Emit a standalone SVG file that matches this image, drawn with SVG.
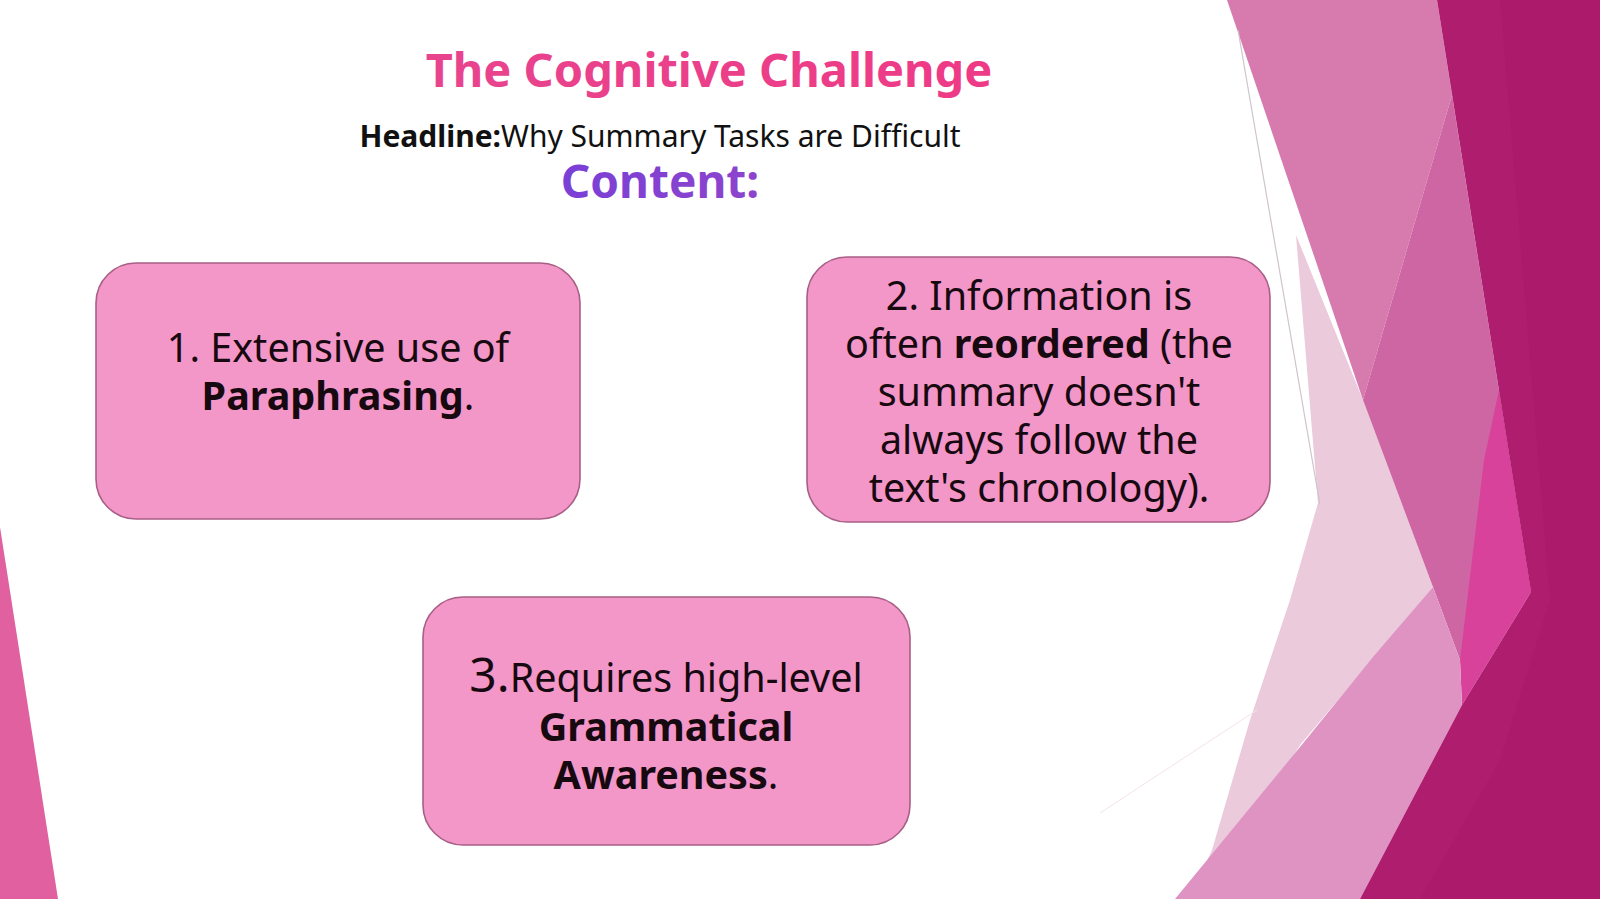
<svg xmlns="http://www.w3.org/2000/svg" width="1600" height="899" viewBox="0 0 1600 899">
  <style>
    .box { fill: #F396C8; stroke: #A85F86; stroke-width: 1.6; }
    .bt { font-family: "Noto Sans", "Open Sans", sans-serif; font-size: 39.5px; fill: #170910; text-anchor: middle; }
    .b { font-weight: 700; }
    .title { font-family: "Noto Sans", "Open Sans", sans-serif; font-size: 47px; font-weight: 700; text-anchor: middle; }
    .head { font-family: "Noto Sans", "Open Sans", sans-serif; font-size: 30px; fill: #111; text-anchor: middle; }
    .content { font-family: "Noto Sans", "Open Sans", sans-serif; font-size: 46px; font-weight: 700; text-anchor: middle; }
  </style>
  <defs>
    <linearGradient id="gTitle" x1="0" y1="0" x2="1" y2="0">
      <stop offset="0" stop-color="#E8448E"/>
      <stop offset="1" stop-color="#EE3A86"/>
    </linearGradient>
    <linearGradient id="gContent" x1="0" y1="0" x2="1" y2="0">
      <stop offset="0" stop-color="#7A3FD6"/>
      <stop offset="1" stop-color="#8E44CC"/>
    </linearGradient>
  </defs>

  <rect width="1600" height="899" fill="#FFFFFF"/>

  <g id="background">
    <polygon points="0,527 58,899 0,899" fill="#E060A0"/>
    <polygon points="1296,235 1363,400 1433,587 1380,650 1300,745 1205,899 1190,899 1212,850 1250,720 1290,600 1318,503" fill="#EACADB"/>
    <polygon points="1227,0 1437,0 1452,95 1363,400" fill="#D77BAF"/>
    <polygon points="1452,95 1531,592 1460,660 1433,587 1363,400" fill="#CE66A4"/>
    <polygon points="1499,390 1531,592 1462,705 1460,660 1484,460" fill="#D8429B"/>
    <polygon points="1373,657 1433,587 1460,660 1462,705 1360,899 1175,899 1300,747" fill="#DF93C2"/>
    <polygon points="1437,0 1600,0 1600,899 1360,899 1462,705 1531,592" fill="#AE1D6E"/>
    <polygon points="1500,0 1600,0 1600,899 1420,899 1500,760 1550,600" fill="#A9176B" opacity="0.35"/>
    <line x1="1238" y1="30" x2="1320" y2="505" stroke="#CFC4CC" stroke-width="1.2"/>
    <line x1="1100" y1="813" x2="1257" y2="710" stroke="#F4E2EA" stroke-width="1"/>
  </g>

  <g id="header">
    <text class="title" x="709" y="87" fill="url(#gTitle)">The Cognitive Challenge</text>
    <text class="head" x="660" y="147"><tspan font-weight="700">Headline:</tspan>Why Summary Tasks are Difficult</text>
    <text class="content" x="660" y="198" fill="url(#gContent)">Content:</text>
  </g>

  <g id="connectors"></g>

  <g id="node1">
    <rect class="box" x="96" y="263" width="484" height="256" rx="40"/>
    <text class="bt" x="338" y="362">1. Extensive use of</text>
    <text class="bt" x="338" y="410"><tspan class="b">Paraphrasing</tspan>.</text>
  </g>

  <g id="node2">
    <rect class="box" x="807" y="257" width="463" height="265" rx="40"/>
    <text class="bt" x="1039" y="310">2. Information is</text>
    <text class="bt" x="1039" y="358">often <tspan class="b">reordered</tspan> (the</text>
    <text class="bt" x="1039" y="406">summary doesn't</text>
    <text class="bt" x="1039" y="454">always follow the</text>
    <text class="bt" x="1039" y="502">text's chronology).</text>
  </g>

  <g id="node3">
    <rect class="box" x="423" y="597" width="487" height="248" rx="40"/>
    <text class="bt" x="666" y="692"><tspan font-size="48">3.</tspan>Requires high-level</text>
    <text class="bt b" x="666" y="741">Grammatical</text>
    <text class="bt" x="666" y="789"><tspan class="b">Awareness</tspan>.</text>
  </g>
</svg>
